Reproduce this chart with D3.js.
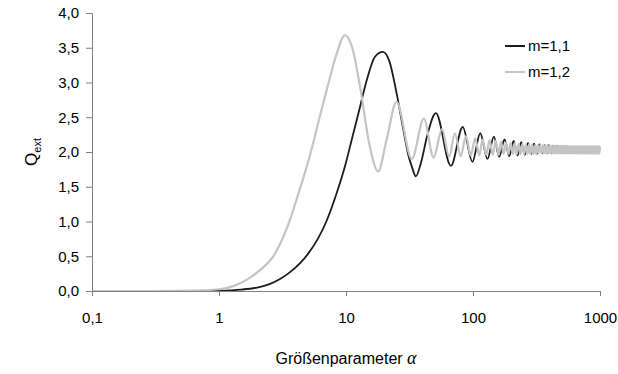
<!DOCTYPE html>
<html>
<head>
<meta charset="utf-8">
<script src="https://cdn.jsdelivr.net/npm/d3@7"></script>
<style>
  body { margin: 0; background: #fff; }
  svg { font-family: "Liberation Sans", Arial, sans-serif; }
</style>
</head>
<body>
<svg id="chart" width="618" height="374"></svg>
<script>
// axis ticks
var xTicks = [0.1, 1, 10, 100, 1000];
var xTickLabels = ['0,1', '1', '10', '100', '1000'];
var yTicks = [0, 0.5, 1, 1.5, 2, 2.5, 3, 3.5, 4];

// m=1,1 : rise up to the first peak, then the oscillation extrema
var m11RiseAlpha = [0.1, 0.5, 1, 1.5, 2, 2.5, 3, 3.5, 4.35, 5, 6, 7, 8.45, 10, 11, 12.5, 14.6, 16.9, 19.5, 22, 25, 28.3, 31, 33, 35.5, 39, 43.4];
var m11RiseQ     = [0, 0, 0.005, 0.02, 0.05, 0.1, 0.17, 0.25, 0.4, 0.53, 0.75, 1.0, 1.41, 1.85, 2.15, 2.55, 3.04, 3.37, 3.44, 3.3, 2.85, 2.32, 1.95, 1.79, 1.65, 1.85, 2.22];
var m11PeakAlpha = [51, 83, 114, 146, 177, 209, 240, 271, 303, 334, 366, 397, 428, 460, 491, 523, 554, 585, 617, 648, 680, 711, 742, 774, 805, 837, 868, 899, 931, 962, 994];
var m11PeakQ     = [2.56, 2.36, 2.27, 2.22, 2.18, 2.16, 2.14, 2.13, 2.12, 2.11, 2.10, 2.10, 2.09, 2.09, 2.08, 2.08, 2.08, 2.07, 2.07, 2.07, 2.07, 2.06, 2.06, 2.06, 2.06, 2.06, 2.06, 2.05, 2.05, 2.05, 2.05];
var m11LowAlpha  = [67, 99, 130, 161, 193, 224, 256, 287, 318, 350, 381, 413, 444, 475, 507, 538, 570, 601, 632, 664, 695, 727, 758, 789, 821, 852, 884, 915, 946, 978];
var m11LowQ      = [1.80, 1.86, 1.90, 1.93, 1.94, 1.95, 1.96, 1.97, 1.97, 1.98, 1.98, 1.98, 1.99, 1.99, 1.99, 1.99, 2.00, 2.00, 2.00, 2.00, 2.00, 2.00, 2.01, 2.01, 2.01, 2.01, 2.01, 2.01, 2.01, 2.01];

// m=1,2
var m12RiseAlpha = [0.1, 0.3, 0.6, 1, 1.3, 1.65, 2.1, 2.66, 3.5, 4.3, 5.2, 6.2, 7.3, 8.4, 9.8, 11.2, 12.9, 15.4, 17.9, 21];
var m12RiseQ     = [0, 0, 0.005, 0.025, 0.07, 0.16, 0.3, 0.49, 0.95, 1.45, 1.95, 2.5, 3.0, 3.4, 3.68, 3.5, 2.94, 2.08, 1.72, 2.2];
var m12PeakAlpha = [25, 41, 57, 72, 88, 104, 119, 135, 151, 166, 182, 198, 213, 229, 245, 261, 276, 292, 308, 323, 339, 355, 370, 386, 402, 417, 433, 449, 465, 480, 496, 512, 527, 543, 559, 574, 590, 606, 621, 637, 653, 669, 684, 700, 716, 731, 747, 763, 778, 794, 810, 825, 841, 857, 873, 888, 904, 920, 935, 951, 967, 982, 998];
var m12PeakQ     = [2.72, 2.48, 2.33, 2.27, 2.23, 2.20, 2.18, 2.17, 2.16, 2.15, 2.14, 2.13, 2.13, 2.12, 2.12, 2.11, 2.11, 2.11, 2.10, 2.10, 2.10, 2.10, 2.10, 2.10, 2.09, 2.09, 2.09, 2.09, 2.09, 2.09, 2.09, 2.09, 2.09, 2.09, 2.09, 2.08, 2.08, 2.08, 2.08, 2.08, 2.08, 2.08, 2.08, 2.08, 2.08, 2.08, 2.08, 2.08, 2.08, 2.08, 2.08, 2.08, 2.08, 2.08, 2.08, 2.08, 2.08, 2.08, 2.08, 2.08, 2.08, 2.08, 2.08];
var m12LowAlpha  = [33, 49, 65, 80, 96, 112, 127, 143, 159, 174, 190, 206, 221, 237, 253, 269, 284, 300, 316, 331, 347, 363, 378, 394, 410, 425, 441, 457, 473, 488, 504, 520, 535, 551, 567, 582, 598, 614, 629, 645, 661, 677, 692, 708, 724, 739, 755, 771, 786, 802, 818, 833, 849, 865, 881, 896, 912, 928, 943, 959, 975, 990];
var m12LowQ      = [1.90, 1.92, 1.93, 1.94, 1.95, 1.95, 1.96, 1.96, 1.96, 1.97, 1.97, 1.97, 1.97, 1.97, 1.97, 1.97, 1.97, 1.97, 1.97, 1.98, 1.98, 1.98, 1.98, 1.98, 1.98, 1.98, 1.98, 1.98, 1.98, 1.98, 1.98, 1.98, 1.98, 1.98, 1.98, 1.98, 1.98, 1.98, 1.98, 1.98, 1.98, 1.98, 1.98, 1.98, 1.98, 1.98, 1.98, 1.98, 1.98, 1.98, 1.98, 1.98, 1.98, 1.98, 1.98, 1.98, 1.98, 1.98, 1.98, 1.98, 1.98, 1.98];

function buildSeries(ra, rq, pa, pq, la, lq) {
    var pts = ra.map((a, i) => [a, rq[i]])
        .concat(pa.map((a, i) => [a, pq[i]]))
        .concat(la.map((a, i) => [a, lq[i]]));
    return pts.sort((a, b) => a[0] - b[0]);
}

var series = [
    {name: 'm=1,1', color: '#1c1c1c', width: 1.8,
     pts: buildSeries(m11RiseAlpha, m11RiseQ, m11PeakAlpha, m11PeakQ, m11LowAlpha, m11LowQ)},
    {name: 'm=1,2', color: '#c4c4c4', width: 2.2,
     pts: buildSeries(m12RiseAlpha, m12RiseQ, m12PeakAlpha, m12PeakQ, m12LowAlpha, m12LowQ)}
];

var svg = d3.select('#chart');
var x = d3.scaleLog().domain([0.1, 1000]).range([92, 600]);
var y = d3.scaleLinear().domain([0, 4]).range([291, 13]);

var line = d3.line()
    .x(d => x(d[0]))
    .y(d => y(d[1]))
    .curve(d3.curveMonotoneX);

svg.selectAll('path.series')
    .data(series)
    .enter().append('path')
    .attr('class', 'series')
    .attr('fill', 'none')
    .attr('stroke', d => d.color)
    .attr('stroke-width', d => d.width)
    .attr('stroke-linejoin', 'round')
    .attr('d', d => line(d.pts));

// axes
svg.append('g')
    .attr('transform', 'translate(0,291)')
    .call(d3.axisBottom(x).tickValues(xTicks).tickSize(5).tickPadding(16)
        .tickFormat((d, i) => xTickLabels[i]))
    .call(g => {
        g.select('.domain').attr('stroke', '#808080')
        g.selectAll('line').attr('stroke', '#808080')
        g.selectAll('text').attr('font-size', 15).attr('fill', '#000')
            .attr('font-family', '"Liberation Sans", Arial, sans-serif')
    })

svg.append('g')
    .attr('transform', 'translate(92,0)')
    .call(d3.axisLeft(y).tickValues(yTicks).tickSize(6).tickPadding(7)
        .tickFormat(d => d3.format('.1f')(d).replace('.', ',')))
    .call(g => {
        g.select('.domain').attr('stroke', '#808080')
        g.selectAll('line').attr('stroke', '#808080')
        g.selectAll('text').attr('font-size', 15).attr('fill', '#000')
            .attr('font-family', '"Liberation Sans", Arial, sans-serif')
    })

// axis titles
var yl = svg.append('text')
    .attr('transform', 'translate(37,152) rotate(-90)')
    .attr('text-anchor', 'middle')
    .attr('font-size', 17);
yl.append('tspan').text('Q');
yl.append('tspan').attr('font-size', 11).attr('dy', 4).text('ext');

var xl = svg.append('text')
    .attr('x', 346)
    .attr('y', 364)
    .attr('text-anchor', 'middle')
    .attr('font-size', 16);
xl.append('tspan').text('Größenparameter ');
xl.append('tspan').attr('font-family', '"Liberation Serif", serif')
    .attr('font-style', 'italic').attr('font-size', 18).text('α');

// legend
var legend = svg.selectAll('g.legend')
    .data(series)
    .enter().append('g')
    .attr('class', 'legend')
    .attr('transform', (d, i) => 'translate(505,' + (46 + i * 26) + ')');
legend.append('line')
    .attr('x1', 0).attr('x2', 20)
    .attr('stroke', d => d.color)
    .attr('stroke-width', 2);
legend.append('text')
    .attr('x', 23).attr('dy', '0.35em')
    .attr('font-size', 15)
    .text(d => d.name);
</script>
</body>
</html>
